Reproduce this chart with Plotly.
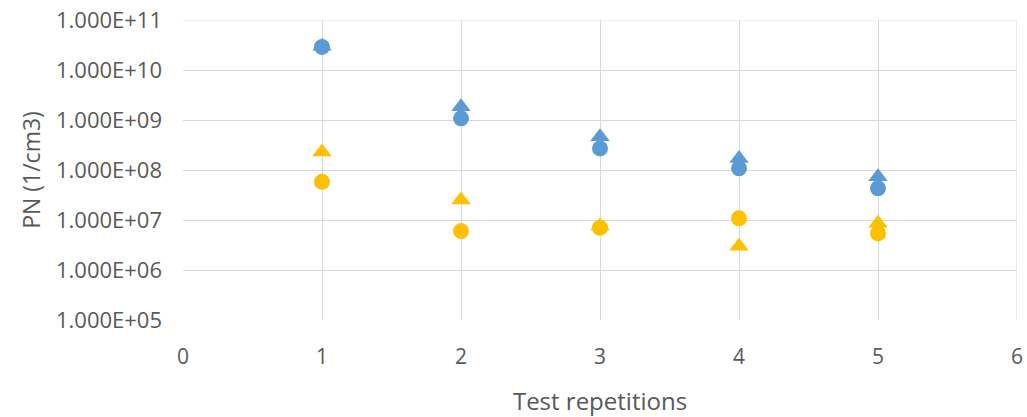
import plotly.graph_objects as go

reps = [1, 2, 3, 4, 5]
blue_tri = [3.0e10, 1.85e9, 4.6e8, 1.7e8, 7.3e7]
blue_circ = [2.9e10, 1.08e9, 2.7e8, 1.08e8, 4.3e7]
orange_tri = [2.3e8, 2.5e7, 7.6e6, 3.0e6, 8.6e6]
orange_circ = [5.8e7, 6.0e6, 7.0e6, 1.08e7, 5.4e6]

y_tickvals = [1e5, 1e6, 1e7, 1e8, 1e9, 1e10, 1e11]
y_ticktext = ["1.000E+05", "1.000E+06", "1.000E+07", "1.000E+08",
              "1.000E+09", "1.000E+10", "1.000E+11"]

BLUE = "#5B9BD5"
ORANGE = "#FFC000"

fig = go.Figure()
fig.add_trace(go.Scatter(x=reps, y=blue_tri, mode="markers",
                         marker=dict(symbol="triangle-up", size=17, color=BLUE)))
fig.add_trace(go.Scatter(x=reps, y=blue_circ, mode="markers",
                         marker=dict(symbol="circle", size=16, color=BLUE)))
fig.add_trace(go.Scatter(x=reps, y=orange_tri, mode="markers",
                         marker=dict(symbol="triangle-up", size=17, color=ORANGE)))
fig.add_trace(go.Scatter(x=reps, y=orange_circ, mode="markers",
                         marker=dict(symbol="circle", size=16, color=ORANGE)))

font_fam = "Open Sans"
fig.update_layout(
    width=1027, height=417,
    margin=dict(l=183, r=10, t=20, b=97, autoexpand=False),
    paper_bgcolor="white", plot_bgcolor="white",
    showlegend=False,
    font=dict(family=font_fam, color="#595959", size=18),
    xaxis=dict(range=[0, 6], tickvals=[0, 1, 2, 3, 4, 5, 6],
               showgrid=True, gridcolor="#D9D9D9", gridwidth=1,
               zeroline=False, showline=False, ticks="",
               ticklabelstandoff=22,
               tickfont=dict(size=21, color="#595959"),
               title=dict(text="Test repetitions", font=dict(size=24, color="#595959"),
                          standoff=26)),
    yaxis=dict(type="log", range=[5, 11], tickvals=y_tickvals, ticktext=y_ticktext,
               showgrid=True, gridcolor="#D9D9D9", gridwidth=1,
               zeroline=False, showline=False, ticks="",
               ticklabelstandoff=20,
               tickfont=dict(size=22, color="#595959"),
               title=dict(text="PN (1/cm3)", font=dict(size=23, color="#595959"),
                          standoff=8)),
)
fig.add_shape(type="line", xref="x", yref="paper", x0=6, x1=6, y0=0, y1=1,
              line=dict(color="#D9D9D9", width=1))
fig.add_shape(type="line", xref="paper", yref="y", x0=0, x1=1, y0=1e11, y1=1e11,
              line=dict(color="#D9D9D9", width=1))

fig.write_html("out.html", config={"displayModeBar": False},
               post_script="document.body.style.margin='0';")
